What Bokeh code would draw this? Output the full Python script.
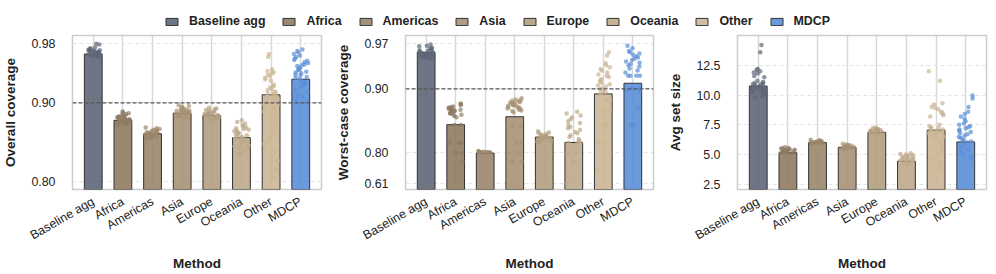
import math
import numpy as np
from bokeh.plotting import figure
from bokeh.models import ColumnDataSource, FixedTicker, Range1d, Span, Legend, LegendItem
from bokeh.transform import jitter
from bokeh.layouts import column, row
from bokeh.embed import file_html
from bokeh.resources import INLINE

# ---------------- data ----------------
methods = ["Baseline agg", "Africa", "Americas", "Asia", "Europe", "Oceania", "Other", "MDCP"]
colors = ["#5e6677", "#8f7b62", "#9b866b", "#a79275", "#b39e80", "#bfa98a", "#cbb594", "#5b8fd8"]

target_coverage = 0.90

overall_means = [0.966, 0.878, 0.861, 0.887, 0.884, 0.856, 0.911, 0.932]
overall_points = [
    [0.962, 0.963, 0.964, 0.964, 0.965, 0.965, 0.966, 0.966, 0.967, 0.967, 0.968, 0.968, 0.969, 0.969,
     0.970, 0.970, 0.971, 0.972, 0.973, 0.974, 0.975, 0.979, 0.980, 0.963, 0.965, 0.966, 0.967, 0.968,
     0.970, 0.971],
    [0.872, 0.873, 0.874, 0.875, 0.876, 0.877, 0.877, 0.878, 0.878, 0.879, 0.879, 0.880, 0.880, 0.881,
     0.881, 0.882, 0.882, 0.883, 0.884, 0.885, 0.886, 0.887, 0.888, 0.889, 0.876, 0.878, 0.880, 0.883],
    [0.855, 0.856, 0.857, 0.858, 0.859, 0.859, 0.860, 0.860, 0.861, 0.861, 0.862, 0.862, 0.863, 0.863,
     0.864, 0.865, 0.866, 0.867, 0.868, 0.869, 0.858, 0.861, 0.864],
    [0.882, 0.883, 0.884, 0.885, 0.886, 0.886, 0.887, 0.887, 0.888, 0.888, 0.889, 0.889, 0.890, 0.890,
     0.891, 0.891, 0.892, 0.893, 0.893, 0.894, 0.895, 0.896, 0.897, 0.888, 0.890],
    [0.879, 0.880, 0.881, 0.882, 0.882, 0.883, 0.883, 0.884, 0.884, 0.885, 0.885, 0.886, 0.886, 0.887,
     0.887, 0.888, 0.889, 0.890, 0.891, 0.892, 0.893, 0.894, 0.884, 0.886],
    [0.834, 0.836, 0.838, 0.840, 0.842, 0.844, 0.845, 0.846, 0.848, 0.849, 0.850, 0.851, 0.852, 0.853,
     0.854, 0.855, 0.856, 0.857, 0.858, 0.859, 0.860, 0.861, 0.862, 0.863, 0.864, 0.865, 0.866, 0.867,
     0.868, 0.869, 0.870, 0.872, 0.874, 0.876, 0.878],
    [0.966, 0.962, 0.945, 0.943, 0.941, 0.940, 0.938, 0.936, 0.934, 0.932, 0.930, 0.925, 0.923, 0.921,
     0.919, 0.917, 0.915, 0.914, 0.912, 0.911, 0.910, 0.909, 0.908, 0.906, 0.905, 0.903, 0.901, 0.899,
     0.897, 0.895, 0.892, 0.889, 0.886, 0.882, 0.878, 0.873, 0.868, 0.862, 0.855, 0.848, 0.838, 0.827,
     0.815, 0.806],
    [0.972, 0.970, 0.968, 0.966, 0.964, 0.962, 0.960, 0.958, 0.957, 0.955, 0.954, 0.952, 0.951, 0.950,
     0.948, 0.947, 0.945, 0.944, 0.942, 0.941, 0.940, 0.938, 0.937, 0.935, 0.934, 0.932, 0.930, 0.928,
     0.926, 0.924, 0.922, 0.920, 0.917, 0.914, 0.911, 0.908, 0.905, 0.902],
]
overall_ticks = [0.80, 0.90, 0.98]
overall_tick_labels = ["0.80", "0.90", "0.98"]

worst_means = [0.956, 0.8435, 0.795, 0.856, 0.824, 0.8155, 0.892, 0.9085]
worst_points = [
    [0.946, 0.947, 0.948, 0.949, 0.950, 0.950, 0.951, 0.952, 0.952, 0.953, 0.954, 0.955, 0.955, 0.956,
     0.957, 0.958, 0.959, 0.960, 0.961, 0.962, 0.963, 0.965, 0.966, 0.968, 0.949, 0.951, 0.953],
    [0.855, 0.857, 0.859, 0.860, 0.861, 0.862, 0.863, 0.864, 0.865, 0.866, 0.867, 0.868, 0.869, 0.870,
     0.871, 0.872, 0.874, 0.876, 0.877, 0.862, 0.866, 0.870, 0.843, 0.843, 0.815, 0.815, 0.815, 0.797,
     0.797, 0.742],
    [0.798, 0.799, 0.799, 0.800, 0.800, 0.800, 0.800, 0.801, 0.801, 0.802, 0.799, 0.800, 0.801],
    [0.863, 0.865, 0.866, 0.867, 0.868, 0.869, 0.870, 0.871, 0.872, 0.873, 0.874, 0.875, 0.876, 0.877,
     0.878, 0.879, 0.880, 0.881, 0.882, 0.883, 0.885, 0.870, 0.874, 0.878, 0.842, 0.842, 0.815, 0.815,
     0.797, 0.797, 0.742, 0.742],
    [0.815, 0.816, 0.817, 0.818, 0.819, 0.820, 0.821, 0.822, 0.823, 0.824, 0.825, 0.826, 0.827, 0.828,
     0.829, 0.830, 0.831, 0.833, 0.822, 0.825],
    [0.815, 0.815, 0.815, 0.818, 0.821, 0.824, 0.827, 0.830, 0.832, 0.835, 0.838, 0.840, 0.843, 0.846,
     0.849, 0.852, 0.855, 0.858, 0.861, 0.864, 0.797, 0.797, 0.742, 0.742, 0.610],
    [0.956, 0.951, 0.939, 0.936, 0.933, 0.930, 0.928, 0.925, 0.922, 0.920, 0.918, 0.915, 0.913, 0.911,
     0.909, 0.907, 0.905, 0.903, 0.901, 0.899, 0.897, 0.895, 0.893, 0.882, 0.882, 0.867, 0.867, 0.843,
     0.843, 0.815, 0.815, 0.797, 0.690],
    [0.966, 0.962, 0.958, 0.956, 0.954, 0.952, 0.950, 0.948, 0.946, 0.944, 0.942, 0.940, 0.938, 0.936,
     0.934, 0.931, 0.928, 0.925, 0.920, 0.920, 0.920, 0.920, 0.900, 0.900, 0.897, 0.897, 0.869, 0.869,
     0.843, 0.843],
]
worst_ticks = [0.61, 0.80, 0.90, 0.97]
worst_tick_labels = ["0.61", "0.80", "0.90", "0.97"]

size_means = [10.75, 5.15, 6.0, 5.6, 6.86, 4.44, 7.05, 6.06]
size_points = [
    [14.2, 13.6, 12.2, 12.1, 12.0, 11.9, 11.8, 11.6, 11.5, 11.2, 11.1, 11.0, 10.9, 10.8, 10.8, 10.7,
     10.7, 10.6, 10.6, 10.5, 10.5, 10.4, 10.4, 10.3, 10.3, 10.2, 10.1, 10.0, 9.9, 9.8, 10.6, 10.9, 11.0],
    [5.1, 5.15, 5.2, 5.2, 5.25, 5.3, 5.3, 5.35, 5.4, 5.4, 5.45, 5.5, 5.5, 5.55, 5.6, 5.2, 5.3, 5.4],
    [5.9, 5.92, 5.95, 5.97, 6.0, 6.0, 6.02, 6.05, 6.07, 6.1, 6.12, 6.15, 6.2, 6.25, 6.0, 6.05],
    [5.45, 5.5, 5.52, 5.55, 5.58, 5.6, 5.62, 5.65, 5.68, 5.7, 5.72, 5.75, 5.8, 5.85, 5.9],
    [6.75, 6.8, 6.82, 6.85, 6.88, 6.9, 6.92, 6.95, 6.98, 7.0, 7.03, 7.06, 7.1, 7.15, 7.2, 7.25],
    [4.2, 4.3, 4.35, 4.4, 4.45, 4.5, 4.55, 4.6, 4.65, 4.7, 4.75, 4.8, 4.85, 4.9, 4.95, 5.0, 5.05, 5.1,
     4.5, 4.6],
    [12.0, 11.2, 9.3, 9.2, 9.0, 8.9, 8.8, 8.6, 8.5, 8.4, 8.3, 8.2, 7.5, 7.4, 7.3, 7.2, 7.2, 7.1, 7.0,
     7.0, 6.9, 6.8, 6.7, 6.6, 6.5, 6.3, 6.0, 5.7, 5.4, 5.0, 4.6, 4.2, 3.8],
    [9.95, 9.7, 9.0, 8.6, 8.4, 8.2, 8.0, 7.8, 7.6, 7.5, 7.4, 7.3, 7.2, 7.1, 7.0, 6.9, 6.8, 6.7, 6.6,
     6.5, 6.4, 6.3, 6.2, 6.1, 6.0, 5.8, 5.6, 5.4, 5.2, 5.0, 4.8, 4.6],
]
size_ticks = [2.5, 5.0, 7.5, 10.0, 12.5]
size_tick_labels = ["2.5", "5.0", "7.5", "10.0", "12.5"]

# ---------------- style / layout ----------------
FONT = "Liberation Sans"
TXT = "#222222"
FRAME_H = 156.0
PANEL_H = 240
# piecewise-linear axis warps (value knots -> position in frame pixels from bottom)
overall_warp_pos = [7.7, 87.7, 147.7]
worst_warp_pos = [6.0, 37.7, 102.0, 148.3]


def make_warp(vals, pos):
    vals = np.asarray(vals, float)
    pos = np.asarray(pos, float)
    s0 = (pos[1] - pos[0]) / (vals[1] - vals[0])
    s1 = (pos[-1] - pos[-2]) / (vals[-1] - vals[-2])

    def f(v):
        v = np.asarray(v, float)
        out = np.interp(v, vals, pos)
        out = np.where(v < vals[0], pos[0] + (v - vals[0]) * s0, out)
        out = np.where(v > vals[-1], pos[-1] + (v - vals[-1]) * s1, out)
        return out
    return f


def identity(v):
    return np.asarray(v, float)


def panel(ylabel, means, points, ticks, tick_labels, warp, yr, ref, width, bl, br):
    p = figure(width=width, height=PANEL_H, x_range=Range1d(-0.7, 7.7), y_range=yr,
               toolbar_location=None, output_backend="svg",
               min_border_left=bl, min_border_right=br, min_border_top=1,
               min_border_bottom=PANEL_H - 1 - int(FRAME_H))
    idx = list(range(len(methods)))
    bottom = float(warp(0.0))
    bars = ColumnDataSource(dict(x=idx, top=[float(t) for t in warp(means)],
                                 bottom=[bottom] * len(idx), color=colors))
    p.vbar(x="x", top="top", bottom="bottom", width=0.6, fill_color="color", fill_alpha=0.9,
           line_color="#333333", line_width=1, source=bars)

    xs, ys, cs = [], [], []
    for i, vals in enumerate(points):
        for v in vals:
            xs.append(i)
            ys.append(float(warp(v)))
            cs.append(colors[i])
    pts = ColumnDataSource(dict(x=xs, y=ys, color=cs))
    p.scatter(x=jitter("x", width=0.5, distribution="uniform"), y="y", size=4.5,
              fill_color="color", fill_alpha=0.7, line_color=None, source=pts)

    if ref is not None:
        p.add_layout(Span(location=float(warp(ref)), dimension="width", line_color="#555555",
                          line_dash="4 2", line_width=1.2))

    tpos = [round(float(t), 3) for t in warp(ticks)]
    p.yaxis.ticker = FixedTicker(ticks=tpos)
    p.yaxis.major_label_overrides = {t: l for t, l in zip(tpos, tick_labels)}
    p.ygrid.ticker = FixedTicker(ticks=tpos)
    p.xaxis.ticker = FixedTicker(ticks=idx)
    p.xaxis.major_label_overrides = {i: m for i, m in zip(idx, methods)}
    p.xgrid.ticker = FixedTicker(ticks=idx)
    p.xaxis.major_label_orientation = math.pi / 6

    p.xgrid.grid_line_color = "#d8d8d8"
    p.xgrid.grid_line_width = 1.5
    p.ygrid.grid_line_color = "#e4e4e4"
    p.ygrid.grid_line_dash = "4 3"
    p.ygrid.grid_line_width = 1

    p.axis.axis_line_color = None
    p.axis.major_tick_line_color = None
    p.axis.minor_tick_line_color = None
    p.axis.major_label_text_font = FONT
    p.axis.major_label_text_font_size = "12.4px"
    p.axis.major_label_text_color = TXT
    p.axis.axis_label_text_font = FONT
    p.axis.axis_label_text_font_style = "bold"
    p.axis.axis_label_text_font_size = "13.5px"
    p.axis.axis_label_text_color = TXT
    p.yaxis.major_label_standoff = 11
    p.yaxis.axis_label_standoff = 10
    p.xaxis.major_label_standoff = 5
    p.xaxis.axis_label_standoff = 5
    p.xaxis.axis_label = "Method"
    p.yaxis.axis_label = ylabel

    p.outline_line_color = "#cccccc"
    p.outline_line_width = 1.5
    p.background_fill_color = "white"
    return p


w1 = make_warp(overall_ticks, overall_warp_pos)
w2 = make_warp(worst_ticks, worst_warp_pos)

p1 = panel("Overall coverage", overall_means, overall_points, overall_ticks, overall_tick_labels,
           w1, Range1d(0, FRAME_H), target_coverage, 333, 64, 12)
p2 = panel("Worst-case coverage", worst_means, worst_points, worst_ticks, worst_tick_labels,
           w2, Range1d(0, FRAME_H), target_coverage, 332, 65, 12)
p3 = panel("Avg set size", size_means, size_points, size_ticks, size_tick_labels,
           identity, Range1d(2.06, 15.0), None, 329, 65, 8)

# ---------------- legend strip ----------------
lf = figure(width=994, height=34, x_range=Range1d(0, 1), y_range=Range1d(0, 1),
            toolbar_location=None, output_backend="svg", min_border=0)
lf.axis.visible = False
lf.grid.visible = False
lf.outline_line_color = None
items = []
for m, c in zip(methods, colors):
    r = lf.vbar(x=[0.5], top=[-5], bottom=[-6], width=0.1, fill_color=c, fill_alpha=0.9,
                line_color="#333333", line_width=1)
    items.append(LegendItem(label=m, renderers=[r]))
leg = Legend(items=items, orientation="horizontal", location="top_center",
             glyph_width=15, glyph_height=9, label_standoff=10, spacing=16,
             padding=0, margin=14, border_line_color=None, background_fill_alpha=0,
             label_text_font=FONT, label_text_font_style="bold", label_text_font_size="12.4px",
             label_text_color=TXT, label_height=12)
lf.add_layout(leg, "center")

layout = column(lf, row(p1, p2, p3))
open("out.html", "w").write(file_html(layout, INLINE))
